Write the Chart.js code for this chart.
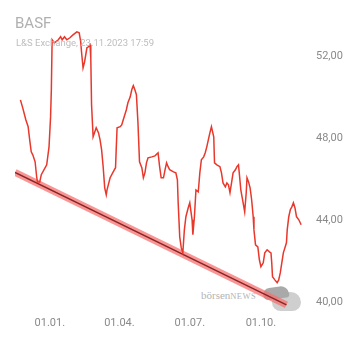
<!DOCTYPE html>
<html>
<head>
<meta charset="utf-8">
<script src="https://cdn.jsdelivr.net/npm/chart.js@4.4.0/dist/chart.umd.min.js"></script>
<style>
  html, body { margin: 0; padding: 0; background: #fff; }
  #wrap { position: relative; width: 360px; height: 337px; }
  #c { position: absolute; left: 0; top: 0; }
  .title { position: absolute; left: 15px; top: 14px; font: 15px "Roboto", "Liberation Sans", sans-serif; color: #b0b0b0; z-index: 2; }
  .sub { position: absolute; left: 16px; top: 37px; font: 9.5px "Roboto", "Liberation Sans", sans-serif; color: #bdbdbd; z-index: 2; }
  .wm { position: absolute; left: 201px; top: 289px; font: 11px "Liberation Serif", "DejaVu Serif", serif; color: #b3b3b3; z-index: 0; }
  .wm span { font-size: 8.5px; letter-spacing: 0.4px; }
  .logo1 { position: absolute; left: 272px; top: 292px; width: 29px; height: 19px; border-radius: 12px 12px 10px 10px; background: #cfcfcf; z-index: 0; }
  .logo2 { position: absolute; left: 263px; top: 287px; width: 26px; height: 12px; border-radius: 8px 10px 4px 6px; background: #a9a9a9; z-index: 0; transform: rotate(-8deg); }
</style>
</head>
<body>
<div id="wrap">
  <div class="wm">börsen<span>NEWS</span></div>
  <div class="logo1"></div>
  <div class="logo2"></div>
  <canvas id="c" width="360" height="337"></canvas>
  <div class="title">BASF</div>
  <div class="sub">L&amp;S Exchange, 23.11.2023 17:59</div>
</div>
<script>
// Days relative to 01.01.2023
const days = [-38,-35,-31,-28,-26,-24,-22,-19,-17,-16,-13,-11,-6,-4,-1,1,2,3,6,11,14,16,19,22,26,30,35,38,40,41,43,45,48,50,52,53,54,56,60,63,65,67,69,71,73,74,78,82,85,86,87,91,93,95,97,99,101,104,106,108,110,112,114,116,119,121,123,125,127,132,136,140,142,144,147,149,151,153,155,160,163,165,166,168,170,172,174,176,179,181,184,185,187,189,192,194,196,199,201,203,205,207,209,212,213,216,220,222,224,227,229,231,233,235,237,240,242,244,245,247,250,252,254,255,257,259,261,263,264,266,269,271,273,276,278,281,284,286,287,288,291,294,296,298,300,302,306,307,309,311,313,315,317,319,322,325];
const prices = [49.85,49.46,48.88,48.54,47.90,47.32,47.17,46.83,46.10,45.85,45.85,46.20,46.54,46.68,47.56,49.02,50.34,52.78,52.63,52.78,52.93,52.78,52.93,52.78,52.88,53.02,53.17,53.12,52.68,52.20,51.41,51.71,52.39,52.44,52.54,51.90,49.61,48.05,48.49,48.24,47.90,47.41,46.59,45.56,45.22,45.46,46.05,46.34,46.54,47.56,48.49,48.54,48.63,48.88,49.12,49.37,49.71,50.00,50.34,50.54,50.34,50.10,48.73,46.83,46.54,46.05,46.29,46.78,47.02,47.07,47.12,47.27,46.59,46.05,46.05,46.44,46.78,46.59,46.44,46.34,46.29,45.95,44.83,43.17,42.63,42.39,43.51,44.15,44.59,44.83,44.00,43.27,44.15,45.46,45.37,46.29,46.93,47.07,47.27,47.56,47.90,48.24,48.54,48.05,46.78,46.68,46.59,46.29,45.80,45.61,45.80,45.71,45.32,45.80,46.29,46.44,46.59,46.68,46.29,45.46,44.83,44.39,45.32,46.05,45.85,45.56,44.98,44.15,43.51,42.78,42.68,42.05,41.71,41.90,42.39,42.54,42.44,42.39,41.90,41.22,41.07,40.93,41.07,41.41,41.90,42.39,42.88,43.51,44.15,44.49,44.63,44.83,44.59,44.15,44.00,43.76];
const trendDays = [-45, 306];
const trendValues = [46.31, 39.85];
const xTickDays = [0, 90, 181, 273];
const xTickLabels = ['01.01.', '01.04.', '01.07.', '01.10.'];
const yTicks = [40, 44, 48, 52];

const priceData = days.map((d, i) => ({ x: d, y: prices[i] }));
const trendData = trendDays.map((d, i) => ({ x: d, y: trendValues[i] }));

new Chart(document.getElementById('c'), {
  type: 'line',
  data: {
    datasets: [
      { data: priceData, borderColor: '#e8382c', borderWidth: 1.5, pointRadius: 0, tension: 0, order: 1 },
      { data: trendData, borderColor: 'rgba(245,115,115,0.75)', borderWidth: 7, pointRadius: 0, order: 3 },
      { data: trendData, borderColor: '#8a2424', borderWidth: 1.4, pointRadius: 0, order: 2 }
    ]
  },
  options: {
    responsive: false,
    animation: false,
    events: [],
    layout: { padding: { left: 15, top: 23, right: 0, bottom: 0 } },
    plugins: { legend: { display: false }, tooltip: { enabled: false }, title: { display: false } },
    scales: {
      x: {
        type: 'linear', min: -45, max: 330,
        grid: { display: false, drawTicks: false },
        border: { display: false },
        afterBuildTicks: s => { s.ticks = xTickDays.map(v => ({ value: v })); },
        afterFit: s => { s.height = 27; },
        ticks: {
          autoSkip: false, maxRotation: 0, padding: 7,
          color: '#8a8a8a', font: { size: 11, family: 'Roboto, "Liberation Sans", sans-serif' },
          callback: (v) => { const i = xTickDays.indexOf(v); return i >= 0 ? xTickLabels[i] : ''; }
        }
      },
      y: {
        position: 'right', min: 39.6, max: 53.6,
        grid: { display: false, drawTicks: false },
        border: { display: false },
        afterBuildTicks: s => { s.ticks = yTicks.map(v => ({ value: v })); },
        afterFit: s => { s.width = 55; },
        ticks: {
          padding: 11,
          color: '#8a8a8a', font: { size: 11, family: 'Roboto, "Liberation Sans", sans-serif' },
          callback: v => v.toFixed(2).replace('.', ',')
        }
      }
    }
  }
});
</script>
</body>
</html>
